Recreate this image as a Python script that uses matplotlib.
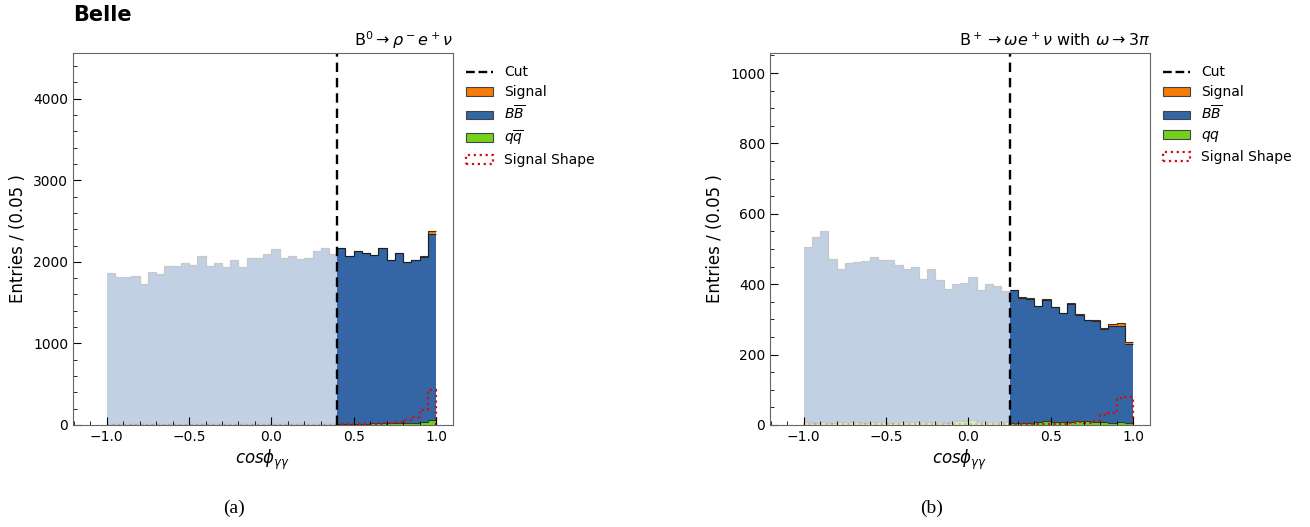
import numpy as np
import matplotlib
matplotlib.use("Agg")
import matplotlib.pyplot as plt
from matplotlib.lines import Line2D
from matplotlib.patches import Patch
from matplotlib.ticker import MultipleLocator, AutoMinorLocator

edges = np.round(np.linspace(-1.0, 1.0, 41), 3)

# ---- panel (a): B0 -> rho- e+ nu ----
cut_a = 0.4
bb_a = [1851, 1794, 1794, 1806, 1712, 1863, 1839, 1925, 1925, 1966,
        1945, 2055, 1933, 1966, 1921, 2002, 1921, 2027, 2027, 2080,
        2137, 2027, 2055, 2019, 2027, 2109, 2150, 2080,
        2150, 2055, 2116, 2087, 2062, 2144, 1993, 2073, 1966, 1988, 2026, 2277]
qq_a = [18] * 28 + [17, 17, 18, 18, 19, 22, 25, 30, 30, 30, 35, 65]
sig_a = [0] * 28 + [1, 1, 1, 1, 1, 2, 2, 3, 4, 6, 12, 30]
shape_a = [5] * 28 + [8, 8, 10, 12, 14, 18, 22, 40, 60, 100, 185, 430]

# ---- panel (b): B+ -> omega e+ nu, omega -> 3pi ----
cut_b = 0.25
bb_b = [497, 526, 544, 466, 435, 451, 456, 460, 468, 460,
        461, 445, 434, 440, 407, 433, 403, 380, 390, 393,
        406, 376, 393, 386, 374,
        377, 355, 352, 329, 346, 326, 310, 336, 302, 286, 287, 266, 274, 272, 222]
qq_b = [8, 7, 8, 7, 8, 8, 8, 7, 8, 8,
        7, 9, 8, 8, 8, 9, 8, 7, 10, 10,
        14, 8, 9, 9, 8,
        7, 7, 7, 8, 10, 9, 8, 9, 11, 12, 9, 8, 7, 8, 7]
sig_b = [0] * 25 + [1, 1, 1, 1, 1, 1, 1, 1, 1, 1, 1, 3, 7, 9, 7]
shape_b = [2] * 25 + [2, 2, 2, 2, 3, 3, 4, 6, 8, 6, 12, 29, 35, 76, 79]

C_SIG = "#f57d07"
C_BB = "#3465a4"
C_QQ = "#72d11f"
C_SHAPE = "#cc1111"


def draw(ax, bb, qq, sig, shape, cut, ymax, yminor, title, qqlabel):
    bb = np.array(bb, float)
    qq = np.array(qq, float)
    sig = np.array(sig, float)
    shape = np.array(shape, float)
    centers = 0.5 * (edges[:-1] + edges[1:])
    m_lo = centers < cut
    m_hi = ~m_lo
    for mask, faded in ((m_lo, True), (m_hi, False)):
        e = edges[np.r_[mask, False] | np.r_[False, mask]]
        s0 = np.zeros(mask.sum())
        s1 = s0 + qq[mask]
        s2 = s1 + bb[mask]
        s3 = s2 + sig[mask]
        alpha = 0.3 if faded else 1.0
        ec = "#c8c8c8" if faded else "#1a1a1a"
        for lo, hi, c in ((s0, s1, C_QQ), (s1, s2, C_BB), (s2, s3, C_SIG)):
            ax.stairs(hi, e, baseline=lo, fill=True, color=c, alpha=alpha, lw=0)
            ax.stairs(hi, e, baseline=None, color=ec, lw=0.8,
                      alpha=0.8 if not faded else 0.9)
        ax.stairs(shape[mask], e, baseline=0, fill=False, color=C_SHAPE,
                  ls=(0, (1, 1.5)), lw=1.6, alpha=0.25 if faded else 1.0)
    ax.axvline(cut, color="black", ls="--", lw=1.7, dashes=(4, 2.5))
    ax.set_xlim(-1.205, 1.103)
    ax.set_ylim(0, ymax)
    ax.xaxis.set_major_locator(MultipleLocator(0.5))
    ax.xaxis.set_minor_locator(MultipleLocator(0.1))
    ax.yaxis.set_minor_locator(AutoMinorLocator(yminor))
    ax.tick_params(which="both", direction="in", top=False, right=False,
                   labelsize=10)
    ax.tick_params(which="major", length=6)
    ax.tick_params(which="minor", length=3)
    for sp in ax.spines.values():
        sp.set_color("#666666")
    ax.set_xlabel(r"$cos\phi_{\gamma\gamma}$", fontsize=12, labelpad=3)
    ax.set_ylabel("Entries / (0.05 )", fontsize=12)
    ax.set_title(title, loc="right", fontsize=11.5, pad=5)
    handles = [
        Line2D([0], [0], color="black", ls="--", lw=1.7),
        Patch(facecolor=C_SIG, edgecolor="#444444", lw=0.8),
        Patch(facecolor=C_BB, edgecolor="#444444", lw=0.8),
        Patch(facecolor=C_QQ, edgecolor="#444444", lw=0.8),
        Patch(facecolor="none", edgecolor=C_SHAPE, ls=":", lw=1.6),
    ]
    labels = ["Cut", "Signal", r"$B\overline{B}$", qqlabel, "Signal Shape"]
    ax.legend(handles, labels, loc="upper left", bbox_to_anchor=(1.0, 1.0),
              frameon=False, fontsize=10, handlelength=2.0,
              handleheight=0.6, borderaxespad=0.5, labelspacing=0.4)


fig = plt.figure(figsize=(13.1, 5.27), dpi=100)
ax1 = fig.add_axes([73 / 1310, 102 / 527, 380 / 1310, 372 / 527])
ax2 = fig.add_axes([770 / 1310, 102 / 527, 380 / 1310, 372 / 527])

draw(ax1, bb_a, qq_a, sig_a, shape_a, cut_a, 4560, 5,
     r"B$^0\rightarrow\rho^-e^+\nu$", r"$q\overline{q}$")
draw(ax2, bb_b, qq_b, sig_b, shape_b, cut_b, 1057, 4,
     r"B$^+\rightarrow\omega e^+\nu$ with $\omega\rightarrow 3\pi$", r"$qq$")

fig.text(73 / 1310, 1 - 15 / 527, "Belle", fontsize=15, fontweight="bold",
         va="center", ha="left")
fig.text(234 / 1310, 1 - 508 / 527, "(a)", fontsize=14,
         family="Liberation Serif", ha="center", va="center")
fig.text(932 / 1310, 1 - 508 / 527, "(b)", fontsize=14,
         family="Liberation Serif", ha="center", va="center")

fig.savefig("out.png", dpi=100)
